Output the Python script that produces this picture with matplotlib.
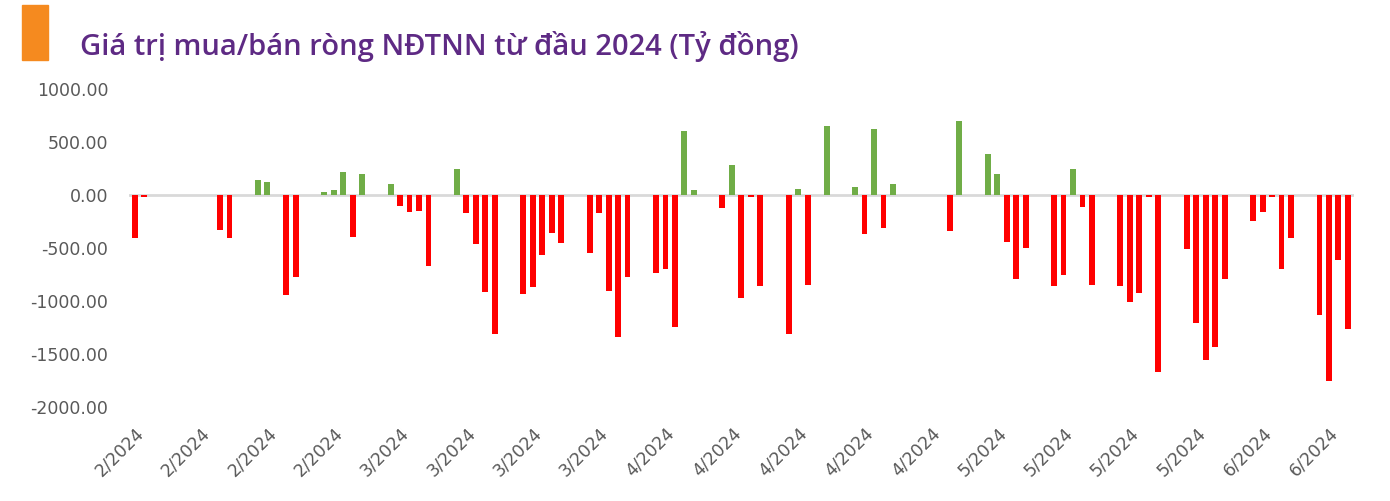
import numpy as np
import matplotlib.pyplot as plt
from matplotlib.patches import Rectangle

# net buy/sell of foreign investors, one slot per trading session (0 = no bar)
values = [
    -409, -15, 0, 0, 0, 0, 0, 0, 0, -330,
    -403, 0, 0, 138, 126, 0, -943, -777, 0, 0,
    31, 44, 220, -393, 198, 0, 0, 104, -100, -163,
    -148, -667, 0, 0, 242, -173, -462, -912, -1308, 0,
    0, -934, -868, -569, -358, -456, 0, 0, -550, -173,
    -903, -1343, -770, 0, 0, -739, -701, -1249, 604, 50,
    0, 0, -123, 286, -975, -15, -862, 0, 0, -1311,
    57, -846, 0, 648, 0, 0, 79, -368, 623, -311,
    104, 0, 0, 0, 0, 0, -337, 695, 0, 0,
    387, 198, -440, -793, -503, 0, 0, -859, -752, 242,
    -110, -846, 0, 0, -859, -1013, -925, -19, -1673, 0,
    0, -513, -1208, -1560, -1434, -796, 0, 0, -245, -164,
    -19, -695, -406, 0, 0, -1135, -1752, -610, -1267,
]
tick_labels = ["2/2024"] * 4 + ["3/2024"] * 4 + ["4/2024"] * 5 + ["5/2024"] * 4 + ["6/2024"] * 2

x = np.arange(len(values))
vals = np.array(values)
colors = np.where(vals >= 0, "#70AD47", "#FF0000")

fig = plt.figure(figsize=(13.9, 5.01), dpi=100)
ax = fig.add_axes([0.0928, 0.1876, 0.881, 0.6347])
ax.bar(x, vals, width=0.62, color=colors)
ax.axhline(0, color="#d9d9d9", lw=2, zorder=0)

ax.set_xlim(-0.6, len(values) - 0.4)
ax.set_ylim(-2000, 1000)
ax.set_yticks(np.arange(-2000, 1001, 500))
ax.set_yticklabels([f"{v:.2f}" for v in np.arange(-2000, 1001, 500)])
ax.set_xticks(np.arange(0, 7 * len(tick_labels), 7))
ax.set_xticklabels(tick_labels, rotation=45, ha="right", rotation_mode="anchor")
ax.tick_params(length=0, labelsize=12.5, colors="#595959")
ax.tick_params(axis="y", pad=15)
ax.tick_params(axis="x", pad=12)
for s in ax.spines.values():
    s.set_visible(False)

fig.patches.append(Rectangle((22 / 1390, 1 - 60 / 501), 26 / 1390, 55 / 501,
                             transform=fig.transFigure, color="#F58A1F"))
fig.text(80 / 1390, 1 - 47 / 501, "Giá trị mua/bán ròng NĐTNN từ đầu 2024 (Tỷ đồng)",
         fontsize=21, fontweight="semibold", color="#5E2A84", va="center", family="Open Sans")

fig.savefig("out.png", dpi=100)
